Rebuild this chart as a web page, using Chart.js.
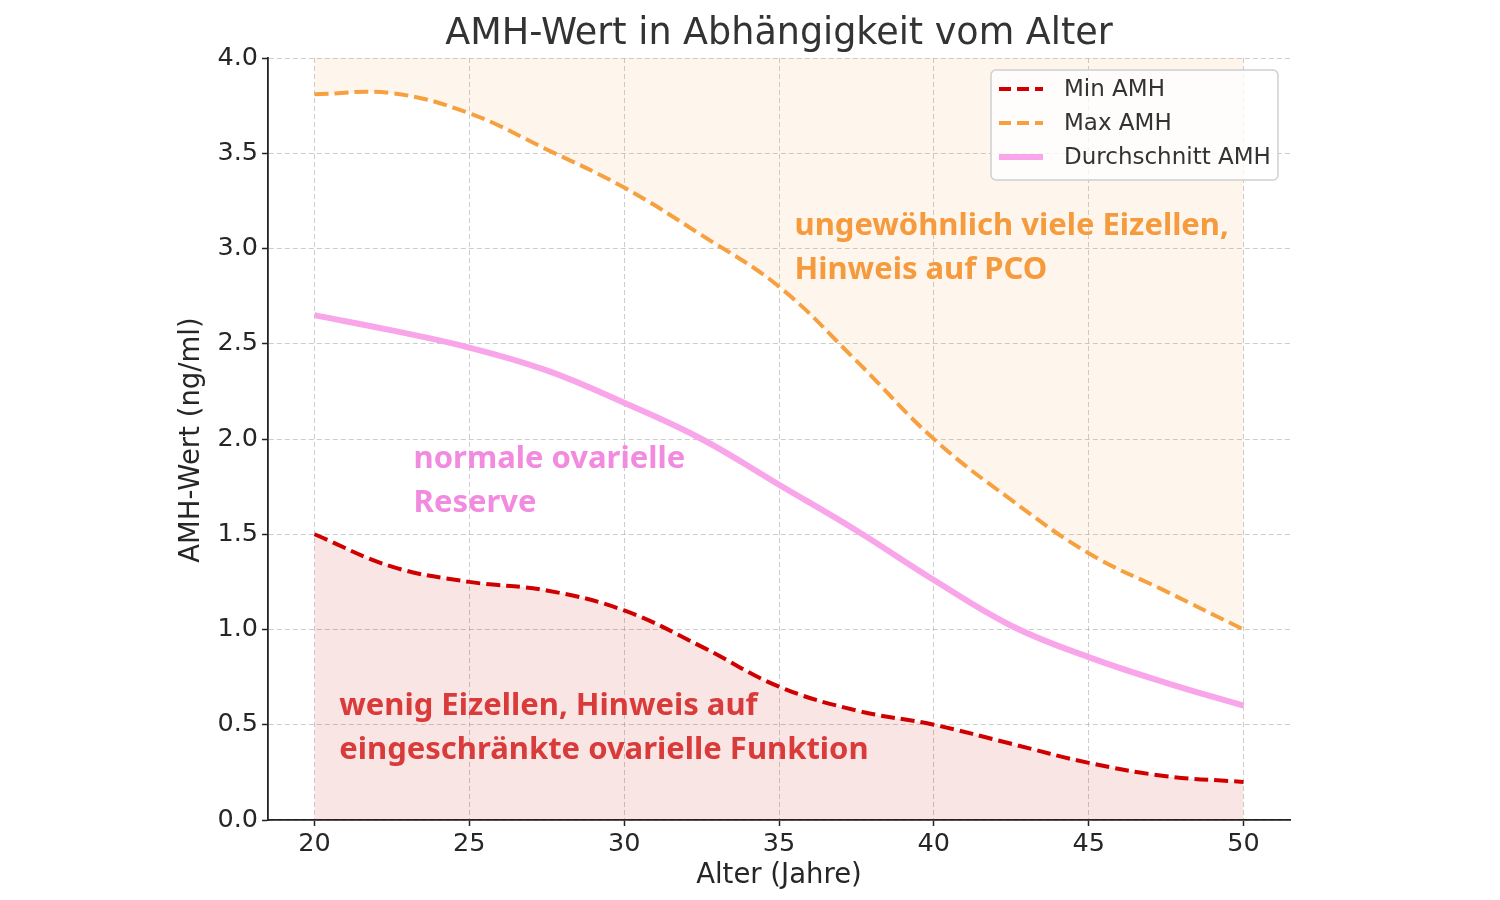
<!DOCTYPE html>
<html lang="de">
<head>
<meta charset="utf-8">
<title>AMH-Wert in Abhängigkeit vom Alter</title>
<script src="https://cdn.jsdelivr.net/npm/chart.js@4.4.1/dist/chart.umd.min.js"></script>
<style>
  html, body { margin: 0; padding: 0; background: #fff; }
  #wrap { width: 1500px; height: 900px; position: relative; }
</style>
</head>
<body>
<div id="wrap"><canvas id="amh-chart"></canvas></div>
<script>
'use strict';

// Alter (Jahre) – every 2.5 years
const ages    = [20, 22.5, 25, 27.5, 30, 32.5, 35, 37.5, 40, 42.5, 45, 47.5, 50];
const minAmh  = [1.50, 1.33, 1.25, 1.205, 1.10, 0.91, 0.70, 0.575, 0.50, 0.40, 0.30, 0.23, 0.20];
const maxAmh  = [3.81, 3.815, 3.71, 3.52, 3.32, 3.07, 2.80, 2.41, 2.00, 1.68, 1.40, 1.20, 1.00];
const avgAmh  = [2.65, 2.57, 2.48, 2.36, 2.19, 2.00, 1.76, 1.52, 1.26, 1.02, 0.855, 0.72, 0.60];

const xTicks = [20, 25, 30, 35, 40, 45, 50];
const yTicks = [0, 0.5, 1.0, 1.5, 2.0, 2.5, 3.0, 3.5, 4.0];

const seriesLabels = ['Min AMH', 'Max AMH', 'Durchschnitt AMH'];

// annotation texts, anchored in data units (left / vertical centre)
const notes = [
  { x: 35.5, y: 3.0, lines: ['ungewöhnlich viele Eizellen,', 'Hinweis auf PCO'], color: '#f59b3d' },
  { x: 23.2, y: 1.78, lines: ['normale ovarielle', 'Reserve'], color: '#f28ae0' },
  { x: 20.8, y: 0.48, lines: ['wenig Eizellen, Hinweis auf', 'eingeschränkte ovarielle Funktion'], color: '#d93a3a' },
];

const C = {
  red: '#d00000',
  orange: '#f7a040',
  pink: '#f9a5ea',
  text: '#262626',
  grid: 'rgba(176,176,176,0.65)',
};

const pts = vals => ages.map((a, i) => ({ x: a, y: vals[i] }));

const overlay = {
  id: 'overlay',
  afterDraw(chart) {
    const { ctx, scales: { x, y } } = chart;
    ctx.save();

    // title + axis titles
    ctx.fillStyle = '#333';
    ctx.textAlign = 'center';
    ctx.textBaseline = 'middle';
    ctx.font = '36.5px "DejaVu Sans"';
    ctx.fillText('AMH-Wert in Abhängigkeit vom Alter', 779, 35);
    ctx.fillStyle = C.text;
    ctx.font = '27.5px "DejaVu Sans"';
    ctx.fillText('Alter (Jahre)', 779, 876);
    ctx.save();
    ctx.translate(192, 440);
    ctx.rotate(-Math.PI / 2);
    ctx.fillText('AMH-Wert (ng/ml)', 0, 0);
    ctx.restore();

    // annotations
    ctx.textAlign = 'left';
    ctx.font = 'bold 31px "Noto Sans"';
    notes.forEach(n => {
      const px = x.getPixelForValue(n.x);
      const py = y.getPixelForValue(n.y);
      const lh = 44;
      const top = py - (n.lines.length - 1) * lh / 2;
      ctx.fillStyle = n.color;
      n.lines.forEach((t, i) => ctx.fillText(t, px, top + i * lh));
    });

    // legend
    const lx = 991, ly = 70, lw = 287, lhgt = 110;
    ctx.beginPath();
    ctx.roundRect(lx, ly, lw, lhgt, 5);
    ctx.fillStyle = 'rgba(255,255,255,0.8)';
    ctx.fill();
    ctx.strokeStyle = '#d0d0d0';
    ctx.lineWidth = 1.5;
    ctx.stroke();

    const entries = [
      { color: C.red, dash: [12, 6], width: 4 },
      { color: C.orange, dash: [12, 6], width: 4 },
      { color: C.pink, dash: [], width: 6 },
    ];
    ctx.font = '23px "DejaVu Sans"';
    entries.forEach((e, i) => {
      const yy = 90 + i * 34;
      ctx.beginPath();
      ctx.setLineDash(e.dash);
      ctx.strokeStyle = e.color;
      ctx.lineWidth = e.width;
      ctx.moveTo(999, yy - 1);
      ctx.lineTo(1043, yy - 1);
      ctx.stroke();
      ctx.setLineDash([]);
      ctx.fillStyle = '#333';
      ctx.fillText(seriesLabels[i], 1064, yy);
    });

    ctx.restore();
  },
};

const axisCommon = {
  ticks: { color: C.text, font: { family: 'DejaVu Sans', size: 25.5 } },
  grid: {
    color: C.grid, lineWidth: 1,
    tickColor: '#222', tickLength: 6, tickWidth: 1.5, tickBorderDash: [],
  },
  border: { display: true, color: '#222', width: 1.8, dash: [5, 3] },
};

new Chart(document.getElementById('amh-chart'), {
  type: 'line',
  data: {
    datasets: [
      {
        label: seriesLabels[0],
        data: pts(minAmh),
        borderColor: C.red,
        borderWidth: 4,
        borderDash: [14, 6],
        backgroundColor: 'rgba(210,0,0,0.1)',
        fill: 'origin',
        pointRadius: 0,
        tension: 0.4,
      },
      {
        label: seriesLabels[1],
        data: pts(maxAmh),
        borderColor: C.orange,
        borderWidth: 4,
        borderDash: [14, 6],
        backgroundColor: 'rgba(245,160,64,0.1)',
        fill: 'end',
        pointRadius: 0,
        tension: 0.4,
      },
      {
        label: seriesLabels[2],
        data: pts(avgAmh),
        borderColor: C.pink,
        borderWidth: 6,
        fill: false,
        pointRadius: 0,
        tension: 0.4,
      },
    ],
  },
  options: {
    responsive: true,
    maintainAspectRatio: false,
    animation: false,
    layout: { padding: { left: 0, top: 58, right: 210, bottom: 0 } },
    plugins: {
      legend: { display: false },
      title: { display: false },
      tooltip: { enabled: false },
    },
    scales: {
      x: {
        ...axisCommon,
        type: 'linear',
        min: 18.5,
        max: 51.5,
        afterBuildTicks: s => { s.ticks = xTicks.map(v => ({ value: v })); },
        afterFit: s => { s.height = 80; },
        ticks: { ...axisCommon.ticks, padding: 3, maxRotation: 0 },
      },
      y: {
        ...axisCommon,
        min: 0,
        max: 4.0,
        afterBuildTicks: s => { s.ticks = yTicks.map(v => ({ value: v })); },
        afterFit: s => { s.width = 268; },
        ticks: { ...axisCommon.ticks, padding: 4, callback: v => Number(v).toFixed(1) },
      },
    },
  },
  plugins: [overlay],
});
</script>
</body>
</html>
